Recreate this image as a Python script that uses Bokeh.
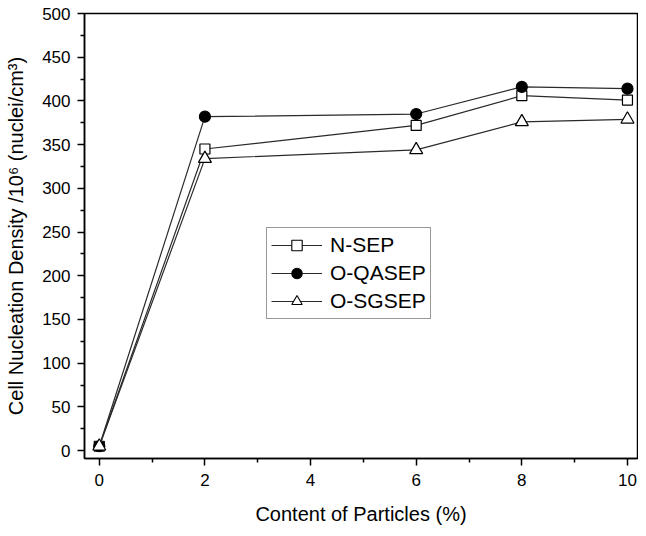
from bokeh.plotting import figure
from bokeh.models import Range1d, Legend, LegendItem, FixedTicker
from bokeh.embed import file_html
from bokeh.resources import INLINE

# Data
content = [0, 2, 6, 8, 10]
n_sep = [5, 345, 372, 406, 401]
o_qasep = [5, 382, 385, 416, 414]
o_sgsep = [5, 334, 344, 376, 379]
x_ticks = [0, 2, 4, 6, 8, 10]
y_ticks = [0, 50, 100, 150, 200, 250, 300, 350, 400, 450, 500]

FONT = "Liberation Sans"

p = figure(width=638, height=528, output_backend="svg", toolbar_location=None,
           x_range=Range1d(-0.28, 10.19), y_range=Range1d(-9, 500),
           min_border_left=84, min_border_right=1, min_border_top=13, min_border_bottom=70)

p.grid.visible = False
p.outline_line_color = "black"
p.outline_line_width = 1.5
p.background_fill_color = "white"
p.border_fill_color = "white"

for ax in (p.xaxis[0], p.yaxis[0]):
    ax.axis_line_width = 1.5
    ax.axis_line_color = "black"
    ax.major_tick_line_width = 1.5
    ax.minor_tick_line_width = 1.5
    ax.major_tick_out = 7
    ax.major_tick_in = 0
    ax.minor_tick_out = 4
    ax.minor_tick_in = 0
    ax.major_label_text_font = FONT
    ax.major_label_text_font_size = "17px"
    ax.major_label_text_color = "black"
    ax.axis_label_text_font = FONT
    ax.axis_label_text_font_size = "20px"
    ax.axis_label_text_font_style = "normal"
    ax.axis_label_text_color = "black"

p.xaxis[0].ticker = FixedTicker(ticks=x_ticks, minor_ticks=[1, 3, 5, 7, 9])
p.yaxis[0].ticker = FixedTicker(ticks=y_ticks, minor_ticks=[v + 25 for v in y_ticks[:-1]])
p.xaxis[0].major_label_standoff = 8
p.yaxis[0].major_label_standoff = 7
p.xaxis[0].axis_label = "Content of Particles (%)"
p.yaxis[0].axis_label = "Cell Nucleation Density /10\u2076 (nuclei/cm\u00b3)"
p.xaxis[0].axis_label_standoff = 14
p.yaxis[0].axis_label_standoff = 12

LC = "#2a2a2a"
items = []
series = [
    ("N-SEP", n_sep, "square", "white", 10, 7),
    ("O-QASEP", o_qasep, "circle", "black", 11, 9),
    ("O-SGSEP", o_sgsep, "triangle", "white", 13, 12),
]
for label, vals, marker, fill, size, lsize in series:
    p.line(content, vals, line_color=LC, line_width=1.2)
    p.scatter(content, vals, marker=marker, size=size, fill_color=fill,
              line_color="black", line_width=1.2)
    # hidden legend proxies carrying the smaller legend symbol
    pl = p.line(content, vals, line_color=LC, line_width=1.2, visible=False)
    ps = p.scatter(content, vals, marker=marker, size=lsize, fill_color=fill,
                   line_color="black", line_width=1.1, visible=False)
    items.append(LegendItem(label=label, renderers=[pl, ps]))

legend = Legend(items=items, location=(182, 139))
legend.label_text_font = FONT
legend.label_text_font_size = "21px"
legend.label_text_color = "black"
legend.glyph_width = 51
legend.glyph_height = 26
legend.label_height = 26
legend.label_standoff = 8
legend.spacing = 2
legend.padding = 4
legend.margin = 0
legend.border_line_color = "#333333"
legend.border_line_width = 1.2
legend.background_fill_alpha = 1.0
legend.inactive_fill_alpha = 0.0
p.add_layout(legend, "center")

open("out.html", "w").write(file_html(p, INLINE))
